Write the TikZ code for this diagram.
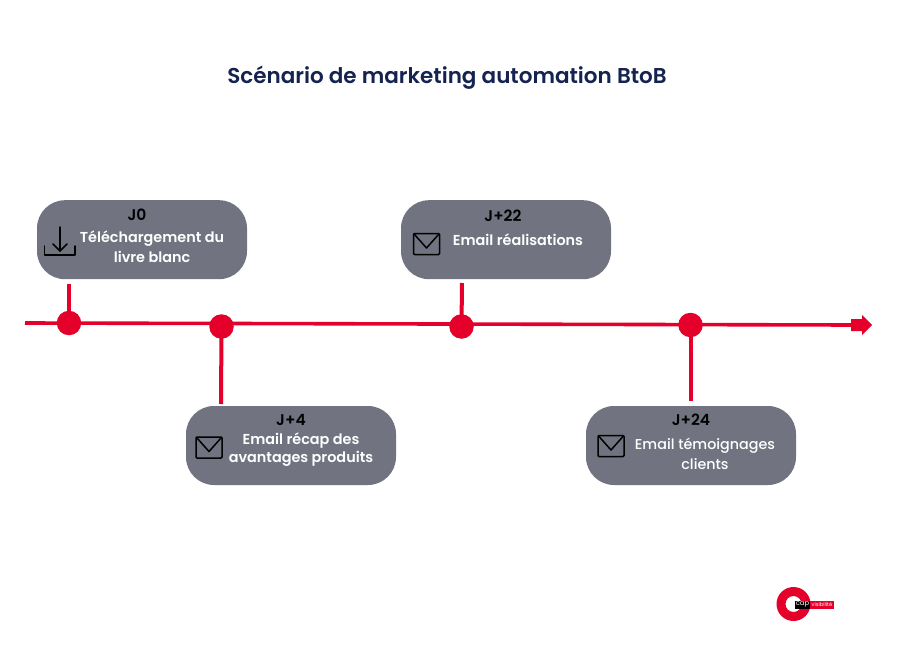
\documentclass[tikz,border=0pt]{standalone}
\usepackage{fontspec}
\usetikzlibrary{backgrounds}
\setmainfont{Poppins}[BoldFont={Poppins SemiBold}]
\newfontfamily\mediumface{Poppins Medium}
\definecolor{navy}{HTML}{14234F}
\definecolor{crimson}{HTML}{E4002B}
\definecolor{slatebox}{HTML}{717480}
\tikzset{
  card/.style={fill=slatebox,rounded corners=28pt,minimum width=210pt,minimum height=79pt,inner sep=0pt},
  stem/.style={draw=crimson,line width=4pt},
  axis/.style={draw=crimson,line width=3.6pt},
  dot/.style={circle,fill=crimson,minimum size=24.5pt,inner sep=0pt},
  daylabel/.style={font=\fontsize{15.5}{17}\selectfont\bfseries,text=black,inner sep=0pt},
  cardlabel/.style={font=\fontsize{14.4}{16}\selectfont\bfseries,text=white,inner sep=0pt},
  softlabel/.style={font=\fontsize{14.3}{16}\selectfont\mediumface,text=white,inner sep=0pt},
  glyph/.style={draw=black,line width=1.5pt,line join=round,line cap=round}
}
% envelope pictogram centred on a given point
\newcommand{\mailicon}[1]{%
  \draw[glyph,rounded corners=1pt] ([shift={(-13pt,10.5pt)}]#1) rectangle ([shift={(13pt,-10.5pt)}]#1);
  \draw[glyph] ([shift={(-12pt,9.5pt)}]#1) -- ([shift={(0pt,-4pt)}]#1) -- ([shift={(12pt,9.5pt)}]#1);
}
\begin{document}
\begin{tikzpicture}[x=1pt,y=-1pt]
\useasboundingbox (0,0) rectangle (900,650);

\node[font=\fontsize{21.5}{25}\selectfont\bfseries,text=navy,inner sep=0pt] (title) at (447,78) {Scénario de marketing automation BtoB};

% cards
\node[card] (c0) at (142,239.7) {};
\node[card] (c1) at (291,445.5) {};
\node[card] (c2) at (506,239.7) {};
\node[card] (c3) at (691,445.5) {};

% timeline markers
\coordinate (start) at (25,323);
\coordinate (end) at (852,325);
\node[dot] (d0) at (69,323) {};
\node[dot] (d1) at (221.5,326.5) {};
\node[dot] (d2) at (461.5,326.5) {};
\node[dot] (d3) at (690.5,325) {};
\coordinate (s0) at (69,284);
\coordinate (s1) at (221,404);
\coordinate (s2) at (462,283);
\coordinate (s3) at (690.5,401);

% timeline axis and stems run behind the markers
\begin{scope}[on background layer]
\fill[white] (0,0) rectangle (900,650);
\draw[axis] (start) -- (end);
\draw[stem] (s0) -- (d0.center);
\draw[stem] (s1) -- (d1.center);
\draw[stem] (s2) -- (d2.center);
\draw[stem] (s3) -- (d3.center);
\end{scope}
\fill[crimson] (851,319) -- (862,319) -- (862,315) -- (872,325) -- (862,335) -- (862,331) -- (851,331) -- cycle;

% card texts
\node[daylabel] (j0) at (137,215) {J0};
\node[cardlabel] (t0a) at (152,239) {Téléchargement du};
\node[cardlabel] (t0b) at (152,256.5) {livre blanc};
\node[daylabel] (j1) at (291,420) {J+4};
\node[cardlabel] (t1a) at (301,441) {Email récap des};
\node[cardlabel] (t1b) at (301,458.5) {avantages produits};
\node[daylabel] (j2) at (503,216) {J+22};
\node[cardlabel] (t2a) at (518,240) {Email réalisations};
\node[daylabel] (j3) at (691,420) {J+24};
\node[softlabel] (t3a) at (705,446) {Email témoignages};
\node[softlabel] (t3b) at (705,464.5) {clients};

% pictograms
\coordinate (m1) at (209,447.5);
\coordinate (m2) at (426.5,244);
\coordinate (m3) at (611,446);
\mailicon{m1}
\mailicon{m2}
\mailicon{m3}
\draw[glyph] (44.5,246) -- (44.5,255) -- (75,255) -- (75,246);
\draw[glyph] (60,227) -- (60,251);
\draw[glyph] (53,244) -- (60,251) -- (67,244);

% logo
\fill[crimson,even odd rule] (793.5,604) circle (17pt) (793.5,604) circle (8pt);
\fill[black] (795,600.5) rectangle (810,608.5);
\fill[crimson] (810,600.5) rectangle (834,608.5);
\node[font=\fontsize{6.8}{7}\selectfont,text=white,inner sep=0pt] (capword) at (802.5,604) {cap};
\node[font=\fontsize{5.2}{6}\selectfont,text=white,inner sep=0pt] (visword) at (822,604.2) {visibilité};
\end{tikzpicture}
\end{document}
